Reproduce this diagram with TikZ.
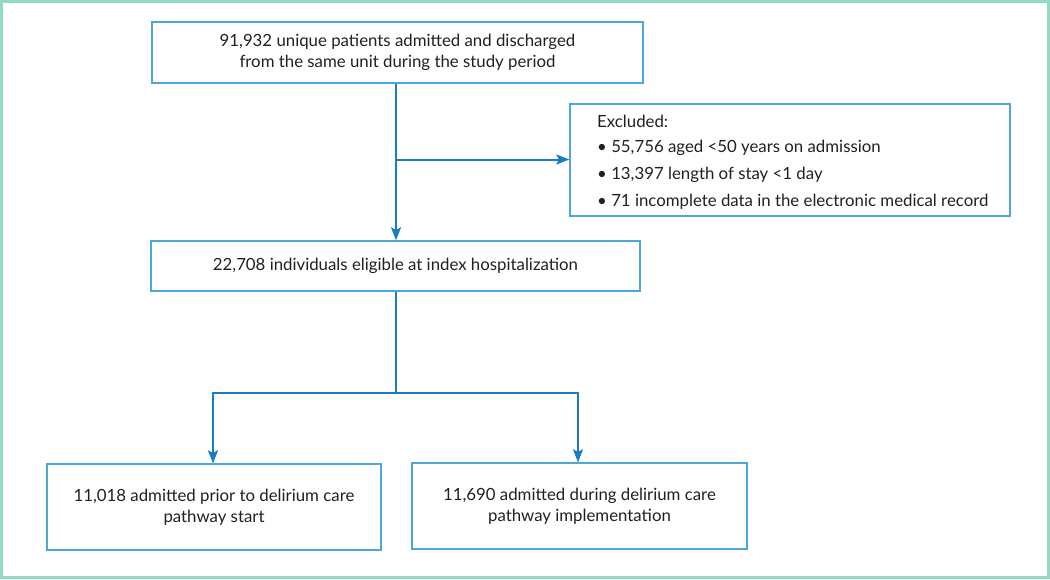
\documentclass[tikz,border=0pt]{standalone}
\usepackage{fontspec}
\setmainfont{Lato}
\usetikzlibrary{arrows.meta,positioning}
\definecolor{frame}{HTML}{8FDBC3}
\definecolor{boxc}{HTML}{4FA6DA}
\definecolor{arr}{HTML}{1A7DC0}
\definecolor{txt}{HTML}{231F20}
\tikzset{
  tf/.style={text=txt, font=\fontsize{16.8}{20.5}\selectfont},
  box/.style={tf, draw=boxc, line width=1.3pt, rectangle, inner sep=0pt, align=center},
  conn/.style={draw=arr, line width=2pt},
  arrowc/.style={conn, -{Stealth[length=13pt,width=10pt,inset=2.5pt]}}
}
\begin{document}
\begin{tikzpicture}[x=1pt,y=-1pt]
\useasboundingbox (0,0) rectangle (1050,579);
\draw[frame, line width=2.2pt] (1.5,1.5) rectangle (1048.5,577.5);
% boxes
\node[box, minimum width=491pt, minimum height=61pt] (b1) at (397.5,52.5) {91,932 unique patients admitted and discharged\\from the same unit during the study period};
\node[box, minimum width=440pt, minimum height=112pt] (ex) at (790,160) {};
\node[anchor=west, tf, inner sep=0pt] (ex0) at (597,121) {Excluded:};
\node[anchor=west, tf, inner sep=0pt] (ex1) at (597,148) {\textbullet\ 55,756 aged <50 years on admission};
\node[anchor=west, tf, inner sep=0pt] (ex2) at (597,175) {\textbullet\ 13,397 length of stay <1 day};
\node[anchor=west, tf, inner sep=0pt] (ex3) at (597,202) {\textbullet\ 71 incomplete data in the electronic medical record};
\node[box, minimum width=489pt, minimum height=50pt] (b2) at (395.5,266) {22,708 individuals eligible at index hospitalization};
\node[box, minimum width=334pt, minimum height=86pt] (b3) at (214,507) {11,018 admitted prior to delirium care\\pathway start};
\node[box, minimum width=335pt, minimum height=86pt] (b4) at (579.5,506) {11,690 admitted during delirium care\\pathway implementation};
% connectors
\coordinate (j1) at (396,159.5);
\coordinate (j2) at (396,393);
\coordinate (l3) at (213,393);
\coordinate (r4) at (578,393);
\draw[arrowc] (b1.south -| j1) -- (b2.north -| j1);
\draw[arrowc] (j1) -- (ex.west |- j1);
\draw[conn] (b2.south -| j2) -- (j2);
\draw[conn] ([xshift=-1pt]l3) -- ([xshift=1pt]r4);
\draw[arrowc] (l3) -- (b3.north -| l3);
\draw[arrowc] (r4) -- (b4.north -| r4);
\end{tikzpicture}
\end{document}
